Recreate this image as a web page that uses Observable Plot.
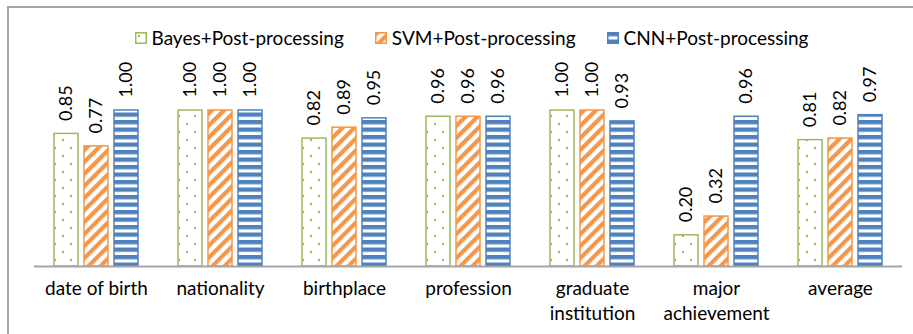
<!DOCTYPE html>
<html>
<head>
<meta charset="utf-8">
<script src="https://cdn.jsdelivr.net/npm/d3@7"></script>
<script src="https://cdn.jsdelivr.net/npm/@observablehq/plot@0.6"></script>
<style>
  html, body { margin: 0; padding: 0; background: #fff; }
  #wrap { position: relative; width: 913px; height: 334px; overflow: hidden; font-family: Lato, sans-serif; }
  #frame { position: absolute; left: 7px; top: 6px; width: 1200px; height: 1200px; border-left: 2px solid #A6A6A6; border-top: 2px solid #A6A6A6; }
  #legend { position: absolute; top: 26px; left: 35px; width: 873px; display: flex; justify-content: center; gap: 31px; font-size: 19px; color: #000; }
  #legend .item { display: flex; align-items: center; gap: 5px; }
  #legend svg { display: block; }
  #chart { position: absolute; left: 0; top: 0; }
</style>
</head>
<body>
<svg width="0" height="0" style="position:absolute">
  <defs>
    <pattern id="pat-bayes" patternUnits="userSpaceOnUse" width="16" height="16">
      <rect width="16" height="16" fill="#fff"/>
      <circle cx="4" cy="4" r="1.2" fill="#9BBB59"/>
      <circle cx="12" cy="12" r="1.2" fill="#9BBB59"/>
    </pattern>
    <pattern id="pat-svm" patternUnits="userSpaceOnUse" width="8.5" height="8.5" patternTransform="rotate(45)">
      <rect width="8.5" height="8.5" fill="#fff"/>
      <rect width="4.2" height="8.5" fill="#F79646"/>
    </pattern>
    <pattern id="pat-cnn" patternUnits="userSpaceOnUse" width="8" height="7.5">
      <rect width="8" height="7.5" fill="#fff"/>
      <rect width="8" height="4.3" fill="#4F81BD"/>
    </pattern>
  </defs>
</svg>
<div id="wrap">
  <div id="frame"></div>
  <div id="chart"></div>
  <div id="legend"></div>
</div>
<script>
const categories = ["date of birth", "nationality", "birthplace", "profession", "graduate institution", "major achievement", "average"];
const tickLabels = ["date of birth", "nationality", "birthplace", "profession", "graduate\ninstitution", "major\nachievement", "average"];
const seriesNames = ["Bayes+Post-processing", "SVM+Post-processing", "CNN+Post-processing"];
const bayes = [0.85, 1.00, 0.82, 0.96, 1.00, 0.20, 0.81];
const svm   = [0.77, 1.00, 0.89, 0.96, 1.00, 0.32, 0.82];
const cnn   = [1.00, 1.00, 0.95, 0.96, 0.93, 0.96, 0.97];
const seriesValues = [bayes, svm, cnn];
const patternIds = ["pat-bayes", "pat-svm", "pat-cnn"];
const strokeColors = ["#9BBB59", "#F79646", "#4F81BD"];

const data = categories.flatMap((c, i) => seriesNames.map((s, j) => ({category: c, series: s, value: seriesValues[j][i]})));

const chart = Plot.plot({
  width: 913,
  height: 334,
  marginLeft: 31,
  marginRight: 9,
  marginTop: 110,
  marginBottom: 68,
  style: {fontFamily: "Lato, sans-serif", background: "transparent", overflow: "visible", color: "#000"},
  fx: {domain: categories, padding: 0, label: null},
  x: {domain: seriesNames, paddingInner: 0.19, paddingOuter: 0.61, axis: null},
  y: {domain: [0, 1], axis: null},
  marks: [
    ...seriesNames.map((s, j) => Plot.barY(data.filter(d => d.series === s), {
      fx: "category", x: "series", y: "value",
      fill: `url(#${patternIds[j]})`, stroke: strokeColors[j], strokeWidth: 1.5
    })),
    Plot.ruleY([0], {stroke: "#A6A6A6", strokeWidth: 2}),
    Plot.text(data, {
      fx: "category", x: "series", y: "value",
      text: d => d3.format(".2f")(d.value),
      rotate: -90, textAnchor: "start", dy: -13,
      fontSize: 18, fill: "#000"
    }),
    Plot.axisFx({
      anchor: "bottom", tickSize: 0, tickPadding: 11, label: null,
      fontSize: 19, lineHeight: 1.3,
      tickFormat: d => tickLabels[categories.indexOf(d)]
    })
  ]
});
document.getElementById("chart").appendChild(chart);

const legend = document.getElementById("legend");
seriesNames.forEach((s, j) => {
  const item = document.createElement("div");
  item.className = "item";
  item.innerHTML = `<svg width="12" height="12"><rect x="0.75" y="0.75" width="10.5" height="10.5" fill="url(#${patternIds[j]})" stroke="${strokeColors[j]}" stroke-width="1.5"/></svg><span>${s}</span>`;
  legend.appendChild(item);
});
</script>
</body>
</html>
